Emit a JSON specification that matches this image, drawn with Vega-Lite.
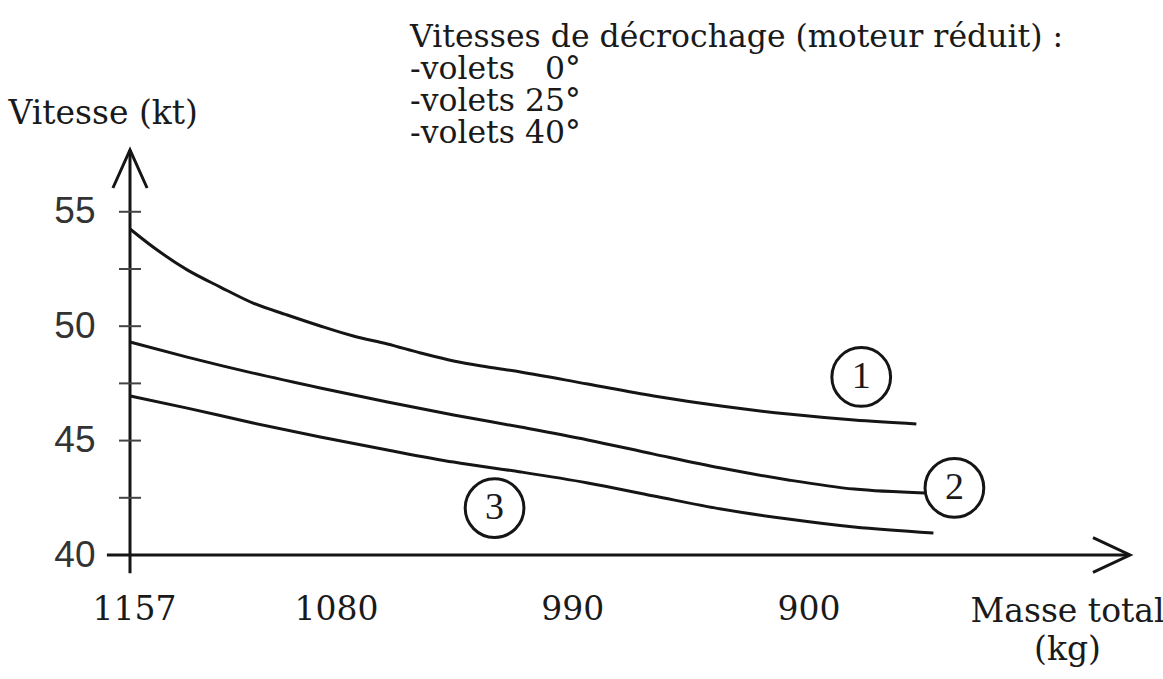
{
  "$schema": "https://vega.github.io/schema/vega-lite/v6.json",
  "width": 1000,
  "height": 405,
  "autosize": {"type": "none"},
  "padding": {"left": 130, "top": 150, "right": 33, "bottom": 124},
  "background": "white",
  "config": {"view": {"stroke": null}, "font": "DejaVu Serif"},
  "title": {
    "text": ["Vitesses de décrochage (moteur réduit) :", "-volets \u20070°", "-volets 25°", "-volets 40°"],
    "anchor": "start",
    "frame": "group",
    "dx": 280,
    "offset": 0,
    "dy": 52,
    "font": "DejaVu Serif",
    "fontSize": 31.5,
    "fontWeight": "normal",
    "lineHeight": 32,
    "color": "#1a1a1a"
  },
  "datasets": {
    "curves": [
      {"courbe": "1", "masse": 1157.0, "vitesse": 54.25},
      {"courbe": "1", "masse": 1148.2, "vitesse": 53.46},
      {"courbe": "1", "masse": 1135.2, "vitesse": 52.46},
      {"courbe": "1", "masse": 1122.6, "vitesse": 51.71},
      {"courbe": "1", "masse": 1110.1, "vitesse": 51.01},
      {"courbe": "1", "masse": 1097.1, "vitesse": 50.49},
      {"courbe": "1", "masse": 1084.5, "vitesse": 50.01},
      {"courbe": "1", "masse": 1071.9, "vitesse": 49.57},
      {"courbe": "1", "masse": 1058.9, "vitesse": 49.22},
      {"courbe": "1", "masse": 1046.3, "vitesse": 48.83},
      {"courbe": "1", "masse": 1033.7, "vitesse": 48.48},
      {"courbe": "1", "masse": 1020.7, "vitesse": 48.22},
      {"courbe": "1", "masse": 1008.2, "vitesse": 48.0},
      {"courbe": "1", "masse": 982.6, "vitesse": 47.47},
      {"courbe": "1", "masse": 957.4, "vitesse": 46.95},
      {"courbe": "1", "masse": 931.8, "vitesse": 46.51},
      {"courbe": "1", "masse": 906.2, "vitesse": 46.16},
      {"courbe": "1", "masse": 881.1, "vitesse": 45.9},
      {"courbe": "1", "masse": 857.4, "vitesse": 45.73},
      {"courbe": "2", "masse": 1157.0, "vitesse": 49.31},
      {"courbe": "2", "masse": 1135.2, "vitesse": 48.65},
      {"courbe": "2", "masse": 1110.1, "vitesse": 47.95},
      {"courbe": "2", "masse": 1084.5, "vitesse": 47.3},
      {"courbe": "2", "masse": 1058.9, "vitesse": 46.69},
      {"courbe": "2", "masse": 1033.7, "vitesse": 46.12},
      {"courbe": "2", "masse": 1008.2, "vitesse": 45.59},
      {"courbe": "2", "masse": 982.6, "vitesse": 45.03},
      {"courbe": "2", "masse": 957.4, "vitesse": 44.41},
      {"courbe": "2", "masse": 931.8, "vitesse": 43.8},
      {"courbe": "2", "masse": 906.2, "vitesse": 43.28},
      {"courbe": "2", "masse": 881.1, "vitesse": 42.88},
      {"courbe": "2", "masse": 854.3, "vitesse": 42.71},
      {"courbe": "3", "masse": 1157.0, "vitesse": 46.95},
      {"courbe": "3", "masse": 1135.2, "vitesse": 46.42},
      {"courbe": "3", "masse": 1110.1, "vitesse": 45.77},
      {"courbe": "3", "masse": 1084.5, "vitesse": 45.16},
      {"courbe": "3", "masse": 1058.9, "vitesse": 44.59},
      {"courbe": "3", "masse": 1033.7, "vitesse": 44.06},
      {"courbe": "3", "masse": 1008.2, "vitesse": 43.63},
      {"courbe": "3", "masse": 982.6, "vitesse": 43.15},
      {"courbe": "3", "masse": 957.4, "vitesse": 42.58},
      {"courbe": "3", "masse": 931.8, "vitesse": 42.01},
      {"courbe": "3", "masse": 906.2, "vitesse": 41.57},
      {"courbe": "3", "masse": 881.1, "vitesse": 41.22},
      {"courbe": "3", "masse": 850.9, "vitesse": 40.96}
    ],
    "graduations": [
      {"vitesse": 42.5}, {"vitesse": 45}, {"vitesse": 47.5},
      {"vitesse": 50}, {"vitesse": 52.5}, {"vitesse": 55}
    ],
    "reperes": [
      {"n": "1", "masse": 878.4, "vitesse": 47.78},
      {"n": "2", "masse": 842.9, "vitesse": 42.93},
      {"n": "3", "masse": 1018.1, "vitesse": 42.05}
    ]
  },
  "layer": [
    {
      "data": {"name": "curves"},
      "mark": {"type": "line", "interpolate": "monotone", "strokeWidth": 3, "color": "#151515"},
      "encoding": {
        "x": {
          "field": "masse", "type": "quantitative",
          "scale": {"domain": [1157, 776], "nice": false, "zero": false},
          "axis": {
            "values": [1157, 1080, 990, 900], "format": "d",
            "domain": false, "ticks": false, "grid": false,
            "labelFlush": false, "labelOverlap": false, "labelOffset": 4,
            "labelFont": "DejaVu Serif", "labelFontSize": 33, "labelColor": "#1a1a1a",
            "labelPadding": 38,
            "title": ["Masse total", "(kg)"],
            "titleFont": "DejaVu Serif", "titleFontSize": 33, "titleFontWeight": "normal", "titleColor": "#1a1a1a",
            "titleAlign": "center", "titleBaseline": "top", "titleLineHeight": 38,
            "titleX": 937, "titleY": 40
          }
        },
        "y": {
          "field": "vitesse", "type": "quantitative",
          "scale": {"domain": [40, 57.7], "nice": false, "zero": false},
          "axis": {
            "values": [40, 45, 50, 55],
            "domain": false, "ticks": false, "grid": false,
            "labelFlush": false, "labelOverlap": false,
            "labelFont": "Liberation Sans", "labelFontSize": 37, "labelColor": "#333",
            "labelPadding": 35,
            "title": "Vitesse (kt)",
            "titleFont": "DejaVu Serif", "titleFontSize": 33, "titleFontWeight": "normal", "titleColor": "#1a1a1a",
            "titleAngle": 0, "titleAlign": "left", "titleBaseline": "alphabetic",
            "titleX": -122, "titleY": -27
          }
        },
        "detail": {"field": "courbe"}
      }
    },
    {
      "data": {"values": [{}]},
      "mark": {"type": "rule", "strokeWidth": 3, "color": "#151515"},
      "encoding": {
        "x": {"datum": 1165.8, "type": "quantitative"},
        "x2": {"datum": 776},
        "y": {"datum": 40, "type": "quantitative"}
      }
    },
    {
      "data": {"values": [{}]},
      "mark": {"type": "rule", "strokeWidth": 3, "color": "#151515"},
      "encoding": {
        "x": {"datum": 1157, "type": "quantitative"},
        "y": {"datum": 39.2, "type": "quantitative"},
        "y2": {"datum": 57.7}
      }
    },
    {
      "data": {"values": [{}]},
      "mark": {"type": "point", "shape": "M -0.45 1 L 0 0 L 0.45 1", "size": 5776, "filled": false, "strokeWidth": 3, "color": "#151515", "opacity": 1},
      "encoding": {
        "x": {"datum": 1157, "type": "quantitative"},
        "y": {"datum": 57.7, "type": "quantitative"}
      }
    },
    {
      "data": {"values": [{}]},
      "mark": {"type": "point", "shape": "M -1 -0.47 L 0 0 L -1 0.47", "size": 5476, "filled": false, "strokeWidth": 3, "color": "#151515", "opacity": 1},
      "encoding": {
        "x": {"datum": 776, "type": "quantitative"},
        "y": {"datum": 40, "type": "quantitative"}
      }
    },
    {
      "data": {"name": "graduations"},
      "mark": {"type": "tick", "orient": "horizontal", "size": 22, "thickness": 2, "color": "#444", "opacity": 1},
      "encoding": {
        "x": {"datum": 1157, "type": "quantitative"},
        "y": {"field": "vitesse", "type": "quantitative"}
      }
    },
    {
      "data": {"name": "reperes"},
      "mark": {"type": "point", "shape": "circle", "size": 3450, "filled": false, "strokeWidth": 3, "color": "#151515", "opacity": 1},
      "encoding": {
        "x": {"field": "masse", "type": "quantitative"},
        "y": {"field": "vitesse", "type": "quantitative"}
      }
    },
    {
      "data": {"name": "reperes"},
      "mark": {"type": "text", "font": "Liberation Serif", "fontSize": 38, "color": "#1a1a1a", "baseline": "middle", "align": "center"},
      "encoding": {
        "x": {"field": "masse", "type": "quantitative"},
        "y": {"field": "vitesse", "type": "quantitative"},
        "text": {"field": "n"}
      }
    }
  ]
}
